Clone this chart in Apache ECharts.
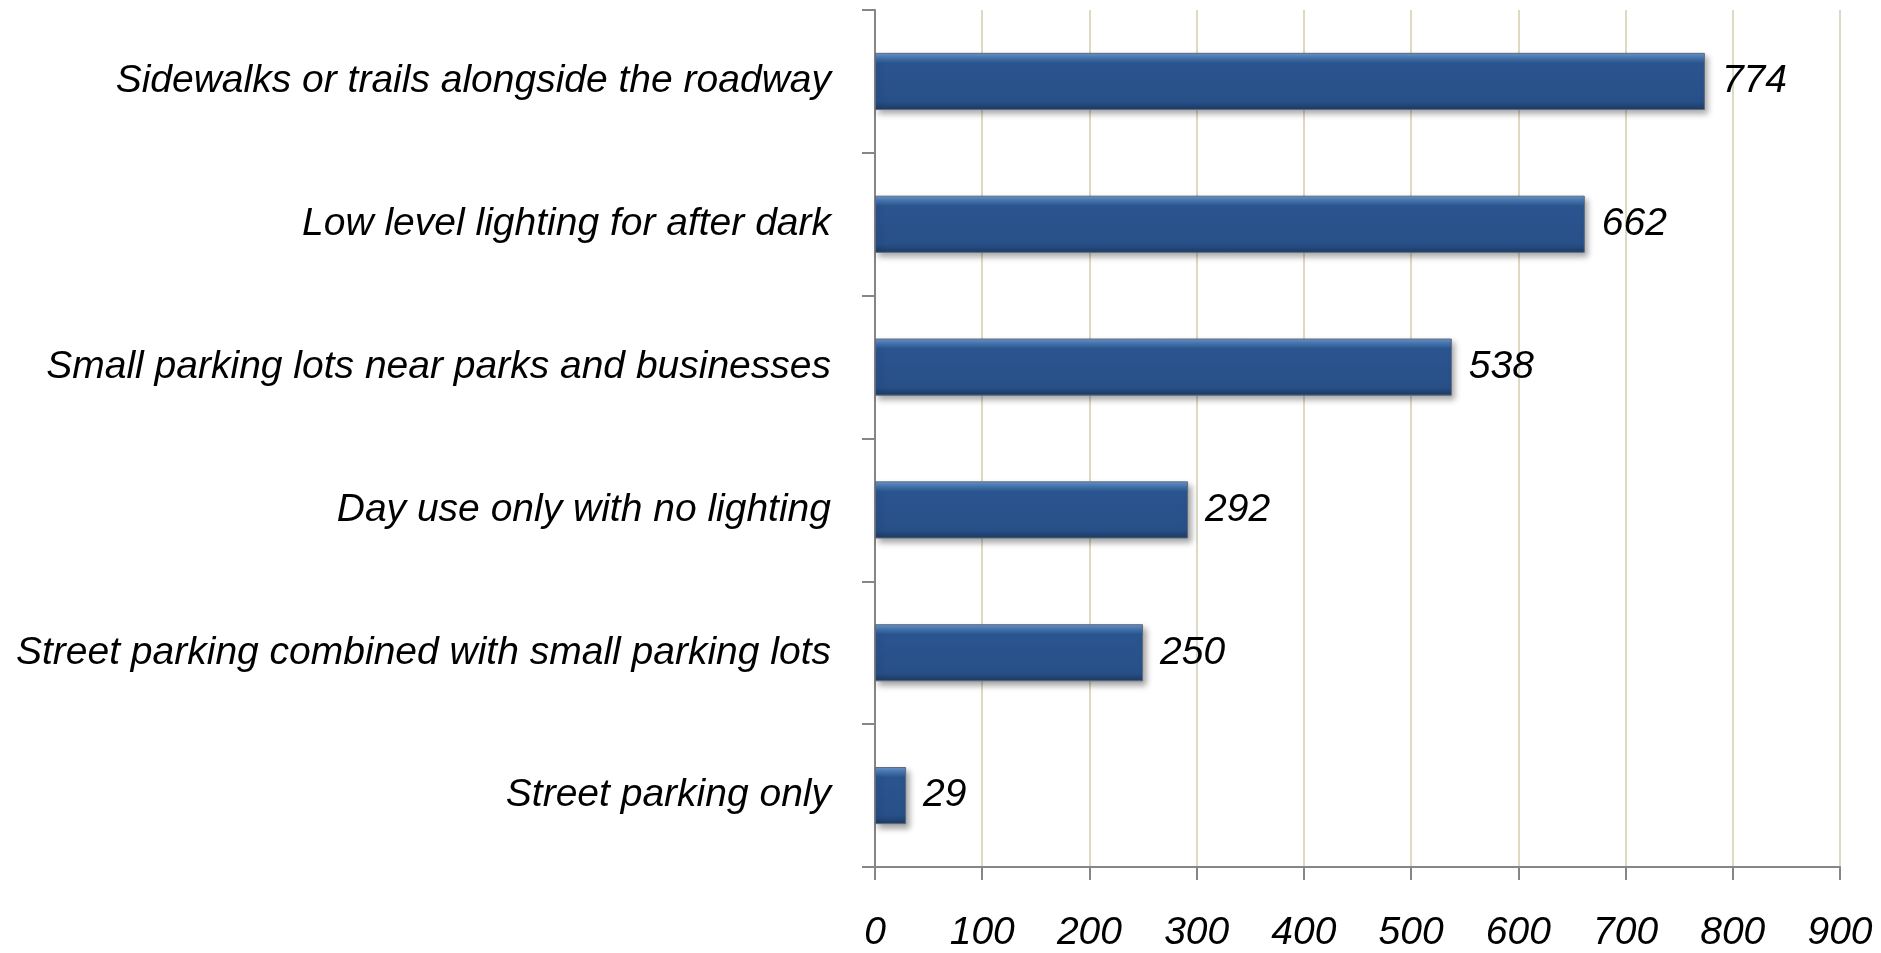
<!DOCTYPE html>
<html>
<head>
<meta charset="utf-8">
<script src="https://cdn.jsdelivr.net/npm/echarts@6/dist/echarts.min.js"></script>
<style>
html,body{margin:0;padding:0;background:#fff;}
#chart{width:1881px;height:953px;}
</style>
</head>
<body>
<div id="chart"></div>
<script>
const categories = [
  "Sidewalks or trails alongside the roadway",
  "Low level lighting for after dark",
  "Small parking lots near parks and businesses",
  "Day use only with no lighting",
  "Street parking combined with small parking lots",
  "Street parking only"
];
const values = [774, 662, 538, 292, 250, 29];
const axisMin = 0, axisMax = 900, axisStep = 100;

const FONT = "Liberation Sans";
const FS = 39;
const chart = echarts.init(document.getElementById('chart'));
chart.setOption({
  animation: false,
  backgroundColor: '#ffffff',
  grid: { left: 875, right: 41, top: 10, bottom: 86, containLabel: false },
  xAxis: {
    type: 'value', min: axisMin, max: axisMax, interval: axisStep,
    axisLine: { show: true, lineStyle: { color: '#868686', width: 2 } },
    axisTick: { show: true, length: 13, lineStyle: { color: '#868686', width: 2 } },
    splitLine: { show: true, lineStyle: { color: '#DDD9C3', width: 2 } },
    axisLabel: { color: '#000', fontSize: FS, fontStyle: 'italic', fontFamily: FONT, margin: 47 }
  },
  yAxis: {
    type: 'category', data: categories, inverse: true,
    axisLine: { show: true, lineStyle: { color: '#868686', width: 2 } },
    axisTick: { show: true, length: 13, alignWithLabel: false, lineStyle: { color: '#868686', width: 2 } },
    axisLabel: { color: '#000', fontSize: FS, fontStyle: 'italic', fontFamily: FONT, margin: 44 },
    splitLine: { show: false }
  },
  series: [{
    type: 'bar', data: values, barWidth: '40%',
    itemStyle: {
      color: new echarts.graphic.LinearGradient(0, 0, 0, 1, [
        { offset: 0, color: '#6a98cf' },
        { offset: 0.08, color: '#4a7ab5' },
        { offset: 0.18, color: '#2b5590' },
        { offset: 0.85, color: '#285088' },
        { offset: 1, color: '#1d3a63' }
      ]),
      borderColor: '#5f6b7a', borderWidth: 1,
      shadowColor: 'rgba(0,0,0,0.35)', shadowBlur: 6, shadowOffsetX: 3, shadowOffsetY: 4
    },
    label: {
      show: true, position: 'right', distance: 17,
      color: '#000', fontSize: FS, fontStyle: 'italic', fontFamily: FONT
    }
  }]
});
</script>
</body>
</html>
